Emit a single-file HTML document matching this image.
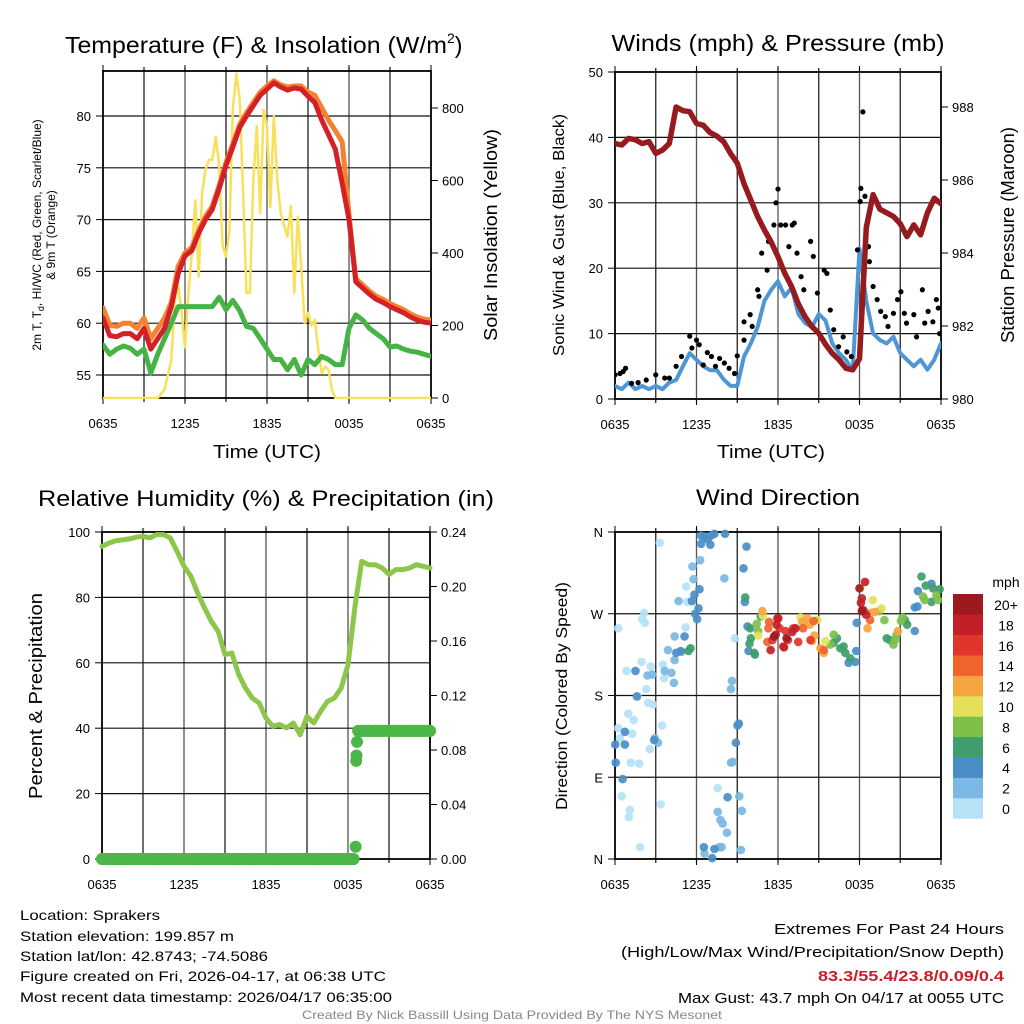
<!DOCTYPE html>
<html><head><meta charset="utf-8"><style>
html,body{margin:0;padding:0;background:#fff;}
svg{display:block;font-family:"Liberation Sans",Arial,sans-serif;}
</style></head><body>
<svg id="chart" width="1024" height="1024" viewBox="0 0 1024 1024" xmlns="http://www.w3.org/2000/svg">
<defs>
<clipPath id="c1"><rect x="103" y="71" width="328" height="328"/></clipPath>
<clipPath id="c2"><rect x="615" y="72" width="326" height="327"/></clipPath>
<clipPath id="c3"><rect x="96" y="532" width="340" height="334"/></clipPath>
<clipPath id="c4"><rect x="610" y="527" width="336" height="338"/></clipPath>
</defs>
<g id="root"></g>
<g font-size="14" fill="#000">
<text x="20" y="920" textLength="140" lengthAdjust="spacingAndGlyphs">Location: Sprakers</text>
<text x="20" y="941" textLength="214" lengthAdjust="spacingAndGlyphs">Station elevation: 199.857 m</text>
<text x="20" y="961" textLength="248" lengthAdjust="spacingAndGlyphs">Station lat/lon: 42.8743; -74.5086</text>
<text x="20" y="981" textLength="366" lengthAdjust="spacingAndGlyphs">Figure created on Fri, 2026-04-17, at 06:38 UTC</text>
<text x="20" y="1002" textLength="372" lengthAdjust="spacingAndGlyphs">Most recent data timestamp: 2026/04/17 06:35:00</text>
<text x="774" y="934" font-size="15" textLength="230" lengthAdjust="spacingAndGlyphs">Extremes For Past 24 Hours</text>
<text x="621" y="957" font-size="15" textLength="383" lengthAdjust="spacingAndGlyphs">(High/Low/Max Wind/Precipitation/Snow Depth)</text>
<text x="818" y="981" font-size="15" font-weight="bold" fill="#c8202a" textLength="186" lengthAdjust="spacingAndGlyphs">83.3/55.4/23.8/0.09/0.4</text>
<text x="678" y="1003" font-size="15" textLength="326" lengthAdjust="spacingAndGlyphs">Max Gust: 43.7 mph On 04/17 at 0055 UTC</text>
<text x="302" y="1019" font-size="12" fill="#888" textLength="420" lengthAdjust="spacingAndGlyphs">Created By Nick Bassill Using Data Provided By The NYS Mesonet</text>
</g>
</svg>
<script>
// ---- data ----
const hours = [0,0.5,1,1.5,2,2.5,3,3.5,4,4.5,5,5.5,6,6.5,7,7.5,8,8.5,9,9.5,10,10.5,11,11.5,12,12.5,13,13.5,14,14.5,15,15.5,16,16.5,17,17.5,18,18.5,19,19.5,20,20.5,21,21.5,22,22.5,23,23.5,24];
const xTickLabels = ["0635","1235","1835","0035","0635"];
const tempRed = [60.5,58.8,58.7,59,59,58.5,59.5,57.5,58.5,59.5,61.6,64.8,66.5,67,68.7,70,71,73,75.2,77,78.9,80,81,82,82.6,83.2,82.8,82.5,82.7,82.6,81.9,81.3,79.6,78.2,76.8,73.5,70,64,63.4,62.8,62.3,62,61.6,61.3,61,60.6,60.3,60.1,60];
const tempOrange = [61.5,59.8,59.7,60,60,59.5,60.5,58.5,59.5,60.5,62,65.5,66.8,67.3,69,70.3,71.3,73.3,75.5,77.3,79.2,80.3,81.3,82.3,82.9,83.4,83,82.8,82.9,82.9,82.3,82,80.8,79.6,78.6,77.5,70.5,64.3,63.7,63.1,62.6,62.3,61.9,61.6,61.3,60.9,60.6,60.4,60.3];
const tempGreen = [57.9,57,57.5,57.8,57.6,57,57.5,55.2,57,58.5,60,61.6,61.6,61.6,61.6,61.6,61.6,62.5,61.3,62.2,61.2,59.7,59.5,58.5,57.5,56.5,56.5,55.5,56.5,55,56.5,56,56.8,56.5,56,56,59.5,60.8,60.3,59.5,59,58.5,57.7,57.8,57.5,57.3,57.2,57,56.8];
const solarHours = [0,4,4.5,5,5.25,5.5,5.75,6,6.25,6.5,6.75,7,7.25,7.5,7.75,8,8.25,8.5,8.75,9,9.25,9.5,9.75,10,10.25,10.5,10.75,11,11.25,11.5,11.75,12,12.25,12.5,12.75,13,13.25,13.5,13.75,14,14.25,14.5,14.75,15,15.25,15.5,15.75,16,16.25,16.5,16.75,17,24];
const solarVals = [0,0,23,105,270,310,235,140,290,400,545,335,565,630,657,657,720,640,420,390,460,795,895,825,565,290,290,600,750,510,795,750,527,777,600,510,475,445,530,290,500,365,207,235,200,216,133,69,87,78,23,0,0];
const tempTicks = [55,60,65,70,75,80];
const solarTicks = [0,200,400,600,800];
const pressure = [987.0,986.96,987.14,987.1,987.0,987.05,986.73,986.82,987.0,988.0,987.9,987.87,987.55,987.5,987.3,987.2,987.05,986.73,986.46,985.9,985.45,985.0,984.63,984.3,983.9,983.44,983.08,982.6,982.25,981.98,981.8,981.5,981.25,981.07,980.84,980.8,981.1,984.7,985.6,985.2,985.1,985.0,984.8,984.45,984.77,984.5,985.1,985.5,985.35];
const windSpeed = [2,1.5,2.5,1.5,2,1.5,2,1.5,2.5,2.9,5,7,6,5,4.4,4.4,3,2,2,6.5,8.5,11,15,16.7,18,15.7,17,13,11.6,11,13,12,8.5,7,6,4.4,23,15,10,9,8.5,9.5,7,6,5,6,4.5,6,8.5];
const gustHours = [0,0.37,0.78,0.6,1.22,1.7,2.3,3.0,3.66,4.0,4.5,4.9,5.5,5.66,6.0,6.2,6.5,6.8,7.1,7.4,7.7,8.05,8.4,8.8,9.0,9.5,9.5,9.95,10.1,10.5,10.6,10.8,11.2,11.3,11.7,11.85,12.0,12.2,12.56,12.8,13.05,13.2,13.4,13.7,13.9,14.4,14.6,14.9,15.4,15.6,15.85,16.1,16.46,16.8,17.07,17.4,17.85,18.05,18.1,18.25,18.4,18.66,18.73,19.0,19.3,19.56,19.9,20.1,20.5,20.8,21.05,21.3,21.46,22.0,22.2,22.63,22.8,23.05,23.4,23.66,23.8,23.9];
const gustVals = [3.7,3.9,4.7,4.2,2.4,2.5,2.9,3.7,3.2,3.2,5,6.5,9.6,7.8,9,8.3,5.2,7.1,6.5,5,6.2,5.5,4.7,3.9,6.6,9,11.8,12.9,11.1,16.7,15.7,22.3,19.7,24.1,26.6,30,32.1,26.6,26.6,23.3,26.6,26.9,22.3,18.7,16.7,24.1,21.8,16.2,19.7,19.2,13.6,10.6,8,9.5,7.2,6.5,22.8,30.2,32.2,43.9,31,23.3,21,17.2,15.2,13.4,12.6,11.1,13.1,15.2,16.4,13.1,11.6,12.9,9.5,16.7,11.6,13.4,11.8,15.2,13.9,10];
const windTicks = [0,10,20,30,40,50];
const pressTicks = [980,982,984,986,988];
const rh = [95.6,96.6,97.3,97.6,97.9,98.4,98.7,98.2,99.2,99.2,98.2,94,89.5,86.5,81.3,76.8,72.7,69.6,62.5,63,56.4,52.3,49.2,47.7,43.1,40.6,41.1,40.1,41.6,38,43.6,41.6,45.2,48.2,49.2,52.3,59.4,76.8,91,90,90,89,87,88.5,88.5,89,90,89.5,89];
const precipHours = [0,0.5,1,1.5,2,2.5,3,3.5,4,4.5,5,5.5,6,6.5,7,7.5,8,8.5,9,9.5,10,10.5,11,11.5,12,12.5,13,13.5,14,14.5,15,15.5,16,16.5,17,17.5,18,18.4,18.56,18.6,18.62,18.66,18.75,19,19.5,20,20.5,21,21.5,22,22.5,23,23.5,24];
const precipVals = [0,0,0,0,0,0,0,0,0,0,0,0,0,0,0,0,0,0,0,0,0,0,0,0,0,0,0,0,0,0,0,0,0,0,0,0,0,0,0.009,0.072,0.076,0.086,0.094,0.094,0.094,0.094,0.094,0.094,0.094,0.094,0.094,0.094,0.094,0.094];
const rhTicks = [0,20,40,60,80,100];
const precipTicks = ["0.00","0.04","0.08","0.12","0.16","0.20","0.24"];
const dirHours = [0.24,2.15,2.0,2.2,3.3,0.85,1.95,2.63,2.3,1.66,2.44,2.8,0.98,1.37,0.24,0.37,1.27,3.46,2.56,1.17,1.78,0.49,1.1,1.02,1.85,3.37,8.83,5.24,5.32,5.2,3.54,3.61,7.56,
 5.7,5.78,6.27,4.68,4.39,3.9,4.39,3.66,4.15,2.39,2.73,4.34,8.05,8.61,8.54,2.93,3.17,8.54,8.68,9.15,9.34,7.56,7.76,7.93,8.24,6.59,7.68,7.85,9.27,4.88,
 6.34,6.59,7.07,7.32,8.1,6.34,7.02,6.83,9.68,9.46,6.22,5.85,5.66,6.15,5.9,5.12,4.51,4.83,1.51,1.61,0.73,0.02,0.73,0.05,0.56,2.88,9.02,9.12,8.9,8.29,6.54,7.32,7.15,9.76,9.83,9.56,17.76,17.8,17.2,17.68,22.3,22.07,22.27,23.3,22.07,
 6.05,5.56,5.41,9.59,9.95,10.0,9.9,10.3,10.73,16.1,16.59,16.95,17.32,16.34,16.83,20.0,20.24,22.56,22.88,23.3,21.34,21.51,23.9,23.41,
 10.24,10.54,16.1,15.85,19.83,19.46,21.05,20.49,20.61,20.73,21.17,22.68,23.66,23.78,22.8,
 10.44,10.54,10.88,14.88,15.49,18.98,19.63,18.05,
 13.66,13.78,14.15,14.34,14.68,15.12,15.37,18.59,18.85,19.15,14.51,20.83,
 10.85,11.29,11.22,14.63,13.85,15.37,18.78,
 11.34,12.12,12.56,13.12,13.49,12.39,11.59,12.73,14.39,
 11.95,11.9,11.46,12.44,13.05,13.29,11.83,18.29,18.17,18.41,18.49,18.1,
 12.02,11.71,12.63,18.0,18.17];
const dirDegrees = [254,271,264,260,348,207,217,212,187,179,172,170,160,153,144,133,138,147,121,106,105,69,54,46,13,60,243,300,283,255,214,199,78,
 322,308,329,284,245,230,219,207,205,202,203,194,309,196,187,133,128,106,107,69,53,52,43,39,29,6,13,13,10,228,
 356,355,356,358,358,347,346,352,344,320,297,291,284,276,270,245,227,229,207,179,140,126,126,106,88,131,147,149,128,68,13,11,1,256,229,283,229,260,216,217,295,277,278,303,251,
 264,232,229,288,254,243,237,225,267,238,232,227,221,243,234,243,241,311,301,283,263,258,297,298,
 227,251,247,236,263,273,262,236,241,247,266,289,290,285,285,
 259,246,268,263,240,285,276,298,
 266,261,265,258,246,232,227,254,271,272,240,251,
 273,254,239,262,254,230,263,
 261,254,251,254,239,234,241,241,241,
 265,258,230,233,250,254,247,274,287,305,269,282,
 265,245,243,298,273];
const dirSpeeds = [0.5,0.5,0.5,0.5,0.5,0.5,0.5,0.5,0.5,0.5,0.5,0.5,0.5,0.5,0.5,0.5,0.5,0.5,0.5,0.5,0.5,0.5,0.5,0.5,0.5,0.5,0.5,0.5,0.5,0.5,0.5,0.5,0.5,
 2.5,2.5,2.5,2.5,2.5,2.5,2.5,2.5,2.5,2.5,2.5,2.5,2.5,2.5,2.5,2.5,2.5,2.5,2.5,2.5,2.5,2.5,2.5,2.5,2.5,2.5,2.5,2.5,2.5,2.5,
 4,4,4,4,4,4,4,4,4,4,4,4,4,4,4,4,4,4,4,4,4,4,4,4,4,4,4,4,4,4,4,4,4,4,4,4,4,4,4,4,4,4,4,4,4,4,
 6.5,6.5,6.5,6.5,6.5,6.5,6.5,6.5,6.5,6.5,6.5,6.5,6.5,6.5,6.5,6.5,6.5,6.5,6.5,6.5,6.5,6.5,6.5,6.5,
 8.5,8.5,8.5,8.5,8.5,8.5,8.5,8.5,8.5,8.5,8.5,8.5,8.5,8.5,8.5,
 10.5,10.5,10.5,10.5,10.5,10.5,10.5,10.5,
 12.5,12.5,12.5,12.5,12.5,12.5,12.5,12.5,12.5,12.5,12.5,12.5,
 14.5,14.5,14.5,14.5,14.5,14.5,14.5,
 16.5,16.5,16.5,16.5,16.5,16.5,16.5,16.5,16.5,
 18.5,18.5,18.5,18.5,18.5,18.5,18.5,18.5,18.5,18.5,18.5,18.5,
 21,21,21,21,21];
const dirTicks = [0,90,180,270,360];
const dirTickLabels = ["N","E","S","W","N"];
const speedLabels = ["0","2","4","6","8","10","12","14","16","18","20+"];
const speedColors = ["#b5e2f7","#7bb8e3","#4a8ec8","#3f9e6b","#7cc04a","#e6df5a","#f7a541","#f0632b","#e0352a","#c21f26","#9c1a1f"];

// ---- helpers ----
const NS = "http://www.w3.org/2000/svg";
const root = document.getElementById("root");
function mk(tag, attrs, parent) {
  const e = document.createElementNS(NS, tag);
  for (const k in attrs) e.setAttribute(k, attrs[k]);
  (parent || root).appendChild(e);
  return e;
}
function lin(d0, d1, r0, r1) { return v => r0 + (v - d0) * (r1 - r0) / (d1 - d0); }
function pathFrom(xs, ys, fx, fy) {
  return xs.map((h, i) => (i ? "L" : "M") + fx(h).toFixed(1) + "," + fy(ys[i]).toFixed(1)).join("");
}
function txt(x, y, s, attrs, parent) {
  const t = mk("text", Object.assign({x: x, y: y}, attrs || {}), parent);
  t.textContent = s;
  return t;
}

function frame(P, xs) {
  const g = mk("g", {});
  
  
  // vertical grid every 3 h
  for (let h = 3; h < 24; h += 3) {
    const l = mk("line", {x1: xs(h), x2: xs(h), y1: P.y0 - 4, y2: P.y1 + 4, stroke: h % 6 === 0 ? "#555" : "#222", "stroke-width": 1.3}, g);
    
    
  }
  // x tick labels
  xTickLabels.forEach((s, i) => {
    const h = i * 6;
    mk("line", {x1: xs(h), x2: xs(h), y1: P.y1, y2: P.y1 + 6, stroke: "#000", "stroke-width": 1}, g);
    mk("line", {x1: xs(h), x2: xs(h), y1: P.y0, y2: P.y0 - 6, stroke: "#000", "stroke-width": 1}, g);
    const t = txt(xs(h), P.y1 + 30, s, {"font-size": 13, "text-anchor": "middle"}, g);
    
    
  });
  const r = mk("rect", {x: P.x0, y: P.y0, width: P.x1 - P.x0, height: P.y1 - P.y0, fill: "none", stroke: "#000", "stroke-width": 1.8}, g);
  
  
  return g;
}
function hgrid(P, ys, ticks, labels, side, g, gridOn) {
  ticks.forEach((v, i) => {
    const y = ys(v);
    if (gridOn && y > P.y0 + 2 && y < P.y1 - 2) {
      const l = mk("line", {x1: P.x0, x2: P.x1, y1: y, y2: y, stroke: "#111", "stroke-width": 1.2}, g);
      
      
    }
    const x = side === "left" ? P.x0 : P.x1;
    const dx = side === "left" ? -7 : 7;
    mk("line", {x1: x, x2: x + dx, y1: y, y2: y, stroke: "#000", "stroke-width": 1}, g);
    const t = txt(side === "left" ? x - 12 : x + 11, y + 5, labels ? labels[i] : String(v),
      {"font-size": 13, "text-anchor": side === "left" ? "end" : "start"}, g);
    
    
  });
}
function title(x, y, s, size, len, name) {
  const t = txt(x, y, s, {"font-size": size, "text-anchor": "middle", textLength: len, lengthAdjust: "spacingAndGlyphs"});
  
  
  return t;
}
function vlabel(x, y, s, size, len, name) {
  const t = txt(0, 0, s, {"font-size": size, "text-anchor": "middle", transform: "translate(" + x + "," + y + ") rotate(-90)", textLength: len, lengthAdjust: "spacingAndGlyphs"});
  
  
  return t;
}

// ---- Panel 1: temperature & insolation ----
(function () {
  const P = {name: "temperature", x0: 103, x1: 431, y0: 71, y1: 398};
  const xs = lin(0, 24, P.x0, P.x1);
  const yT = lin(55, 80, 375, 116);
  const yS = lin(0, 800, 398, 108);
  const g = frame(P, xs);
  hgrid(P, yT, tempTicks, null, "left", g, true);
  hgrid(P, yS, solarTicks, null, "right", g, false);
  const c = mk("g", {"clip-path": "url(#c1)", fill: "none", "stroke-linejoin": "round", "stroke-linecap": "round"});
  let p = mk("path", {d: pathFrom(solarHours, solarVals, xs, yS), stroke: "#f9e05a", "stroke-width": 2.5}, c);
   
  p = mk("path", {d: pathFrom(hours, tempGreen, xs, yT), stroke: "#46b445", "stroke-width": 5}, c);
   
  p = mk("path", {d: pathFrom(hours, tempOrange, xs, yT), stroke: "#f58230", "stroke-width": 5}, c);
   
  p = mk("path", {d: pathFrom(hours, tempRed, xs, yT), stroke: "#d42027", "stroke-width": 5}, c);
   
  const t = txt(267, 53, "Temperature (F) & Insolation (W/m", {"font-size": 23, "text-anchor": "end", textLength: 0});
  t.remove();
  const tt = mk("text", {x: 65, y: 53, "font-size": 23});
   
  const a = document.createElementNS(NS, "tspan"); a.textContent = "Temperature (F) & Insolation (W/m";
  a.setAttribute("textLength", "382"); a.setAttribute("lengthAdjust", "spacingAndGlyphs"); tt.appendChild(a);
  const b = document.createElementNS(NS, "tspan"); b.textContent = "2"; b.setAttribute("font-size", "14"); b.setAttribute("dy", "-10"); tt.appendChild(b);
  const cc = document.createElementNS(NS, "tspan"); cc.textContent = ")"; cc.setAttribute("dy", "10"); tt.appendChild(cc);
  title(267, 458, "Time (UTC)", 18, 108, "x-axis-title");
  vlabel(497, 235, "Solar Insolation (Yellow)", 18, 212, "y2-axis-title");
  const yl = mk("text", {"font-size": 12, "text-anchor": "middle", transform: "translate(41,235) rotate(-90)"});
   
  const s1 = document.createElementNS(NS, "tspan"); s1.setAttribute("x", "0"); s1.setAttribute("y", "0");
  s1.textContent = "2m T, T"; yl.appendChild(s1);
  const s1b = document.createElementNS(NS, "tspan"); s1b.setAttribute("font-size", "9"); s1b.setAttribute("dy", "3"); s1b.textContent = "d"; yl.appendChild(s1b);
  const s1c = document.createElementNS(NS, "tspan"); s1c.setAttribute("dy", "-3"); s1c.textContent = ", HI/WC (Red, Green, Scarlet/Blue)"; yl.appendChild(s1c);
  const s2 = document.createElementNS(NS, "tspan"); s2.setAttribute("x", "0"); s2.setAttribute("y", "14"); s2.textContent = "& 9m T (Orange)"; yl.appendChild(s2);
})();

// ---- Panel 2: winds & pressure ----
(function () {
  const P = {name: "winds", x0: 615, x1: 941, y0: 72, y1: 399};
  const xs = lin(0, 24, P.x0, P.x1);
  const yW = lin(0, 50, 399, 72);
  const yP = lin(980, 988, 399, 107);
  const g = frame(P, xs);
  hgrid(P, yW, windTicks, null, "left", g, true);
  hgrid(P, yP, pressTicks, null, "right", g, false);
  const c = mk("g", {"clip-path": "url(#c2)", fill: "none", "stroke-linejoin": "round", "stroke-linecap": "round"});
  let p = mk("path", {d: pathFrom(hours, windSpeed, xs, yW), stroke: "#4f96d4", "stroke-width": 4}, c);
   
  gustHours.forEach((h, i) => {
    const d = mk("circle", {cx: xs(h), cy: yW(gustVals[i]), r: 2.6, fill: "#000"}, c);
     
  });
  p = mk("path", {d: pathFrom(hours, pressure, xs, yP), stroke: "#951b1e", "stroke-width": 5.5}, c);
   
  title(778, 51, "Winds (mph) & Pressure (mb)", 23, 333, "winds-title");
  title(771, 458, "Time (UTC)", 18, 108, "x-axis-title");
  vlabel(564, 235, "Sonic Wind & Gust (Blue, Black)", 16, 242, "y-axis-title");
  vlabel(1014, 235, "Station Pressure (Maroon)", 18, 216, "y2-axis-title");
})();

// ---- Panel 3: RH & precip ----
(function () {
  const P = {name: "humidity", x0: 102, x1: 430, y0: 532, y1: 859};
  const xs = lin(0, 24, P.x0, P.x1);
  const yR = lin(0, 100, 859, 532);
  const yPr = lin(0, 0.24, 859, 532);
  const g = frame(P, xs);
  hgrid(P, yR, rhTicks, null, "left", g, true);
  hgrid(P, v => yPr(parseFloat(v)), precipTicks, null, "right", g, false);
  const c = mk("g", {"clip-path": "url(#c3)", fill: "none", "stroke-linejoin": "round", "stroke-linecap": "round"});
  let p = mk("path", {d: pathFrom(hours, rh, xs, yR), stroke: "#8dc64a", "stroke-width": 5}, c);
   
  precipHours.forEach((h, i) => {
    if (i > 0 && precipVals[i] === precipVals[i - 1]) {
      const s = mk("line", {x1: xs(precipHours[i - 1]), x2: xs(h), y1: yPr(precipVals[i]), y2: yPr(precipVals[i]), stroke: "#4cb748", "stroke-width": 12}, c);
       
    }
    const d = mk("circle", {cx: xs(h), cy: yPr(precipVals[i]), r: 6, fill: "#4cb748", stroke: "none"}, c);
     
  });
  title(266, 506, "Relative Humidity (%) & Precipitation (in)", 22, 456, "humidity-title");
  vlabel(42, 696, "Percent & Precipitation", 18, 206, "y-axis-title");
})();

// ---- Panel 4: wind direction ----
(function () {
  const P = {name: "wind-direction", x0: 615, x1: 941, y0: 532, y1: 859};
  const xs = lin(0, 24, P.x0, P.x1);
  const yD = lin(0, 360, 859, 532);
  const g = frame(P, xs);
  hgrid(P, yD, dirTicks, dirTickLabels, "left", g, true);
  const c = mk("g", {"clip-path": "url(#c4)"});
  dirHours.forEach((h, i) => {
    const idx = Math.max(0, Math.min(10, Math.floor(dirSpeeds[i] / 2)));
    const d = mk("circle", {cx: xs(h), cy: yD(dirDegrees[i]), r: 4.3, fill: speedColors[idx], "fill-opacity": 0.92}, c);
     
  });
  title(778, 505, "Wind Direction", 22, 164, "wind-direction-title");
  vlabel(567, 696, "Direction (Colored By Speed)", 16, 228, "y-axis-title");
  const lg = mk("g", {});
   
  const top = 594, bh = 20.4;
  speedColors.forEach((col, i) => {
    const k = 10 - i;
    const r = mk("rect", {x: 953, y: top + (10 - i) * bh, width: 30, height: bh + 0.3, fill: col}, lg);
     
    const t = txt(1006, top + (10 - i) * bh + 16, speedLabels[i], {"font-size": 14, "text-anchor": "middle"}, lg);
     
  });
  const mt = txt(1006, 587, "mph", {"font-size": 14, "text-anchor": "middle"}, lg);
   
})();
</script>
</body></html>
